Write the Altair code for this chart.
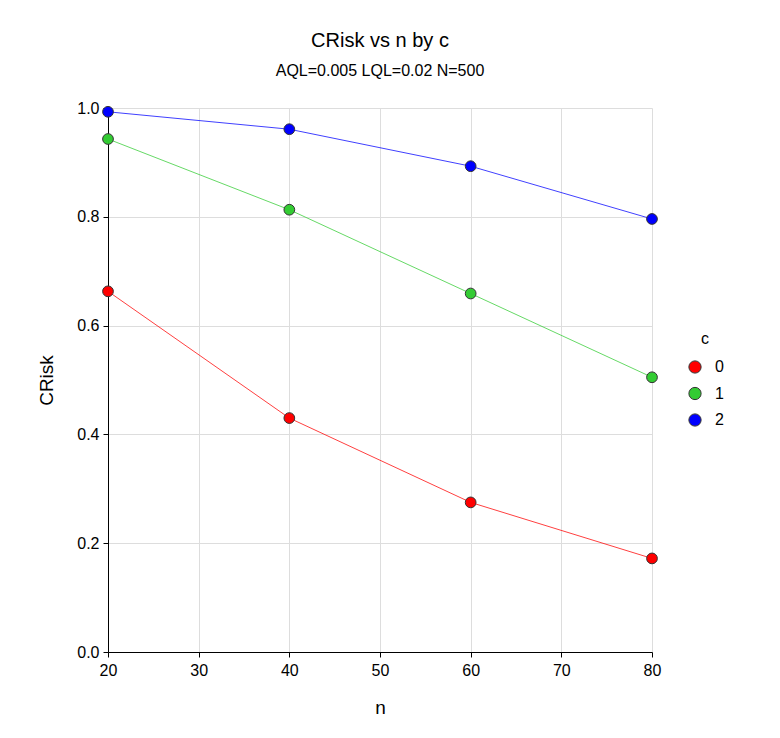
import altair as alt
import pandas as pd

n_vals = [20, 40, 60, 80]
c_levels = ["0", "1", "2"]
crisk_c0 = [0.663, 0.430, 0.275, 0.172]
crisk_c1 = [0.943, 0.813, 0.659, 0.505]
crisk_c2 = [0.993, 0.961, 0.893, 0.796]
colors = ["#FF0000", "#33CC33", "#0000FF"]

rows = []
for c, vals in zip(c_levels, [crisk_c0, crisk_c1, crisk_c2]):
    for n, v in zip(n_vals, vals):
        rows.append({"n": n, "c": c, "CRisk": v})
df = pd.DataFrame(rows)

FONT = "Liberation Sans"

x = alt.X("n:Q", scale=alt.Scale(domain=[20, 80], nice=False, zero=False),
          axis=alt.Axis(values=[20, 30, 40, 50, 60, 70, 80], title="n",
                        labelFlush=False, labelPadding=5, titlePadding=20))
y = alt.Y("CRisk:Q", scale=alt.Scale(domain=[0, 1], nice=False),
          axis=alt.Axis(values=[0, 0.2, 0.4, 0.6, 0.8, 1.0], format=".1f", title="CRisk",
                        labelFlush=False, labelPadding=4, titlePadding=20))
cscale = alt.Scale(domain=c_levels, range=colors)

base = alt.Chart(df)
lines = base.mark_line(strokeWidth=1, opacity=0.75).encode(
    x=x, y=y, color=alt.Color("c:N", scale=cscale, legend=None))
points = base.mark_point(filled=True, size=115, stroke="#333333", strokeWidth=1, opacity=1).encode(
    x=x, y=y,
    color=alt.Color("c:N", scale=cscale,
                    legend=alt.Legend(title="c", orient="none", legendX=579, legendY=223,
                                      symbolType="circle", symbolSize=150,
                                      symbolStrokeColor="#333333", symbolStrokeWidth=1,
                                      symbolOpacity=1,
                                      rowPadding=8.5, titleAnchor="middle",
                                      titlePadding=12, padding=0, labelOffset=12)))

chart = alt.layer(lines, points).resolve_legend(color="independent").properties(
    width=544, height=544,
    title=alt.TitleParams(text="CRisk vs n by c", subtitle="AQL=0.005 LQL=0.02 N=500",
                          anchor="middle", fontSize=20, fontWeight="normal", font=FONT,
                          subtitleFont=FONT, subtitleFontSize=16, subtitleColor="#000000",
                          color="#000000", offset=21, subtitlePadding=12),
    padding={"left": 100, "top": 100, "right": 110, "bottom": 70},
    autosize=alt.AutoSizeParams(type="none"),
    background="white",
).configure_view(stroke=None).configure_axis(
    labelFont=FONT, titleFont=FONT, labelFontSize=16, titleFontSize=19,
    titleFontWeight="normal", labelColor="#000000", titleColor="#000000",
    domainColor="#000000", tickColor="#000000", tickSize=5, gridColor="#dddddd",
).configure_legend(
    labelFont=FONT, titleFont=FONT, labelFontSize=16, titleFontSize=16,
    titleFontWeight="normal", labelColor="#000000", titleColor="#000000",
)

chart.save("out.html", embed_options={"renderer": "svg", "actions": False})
